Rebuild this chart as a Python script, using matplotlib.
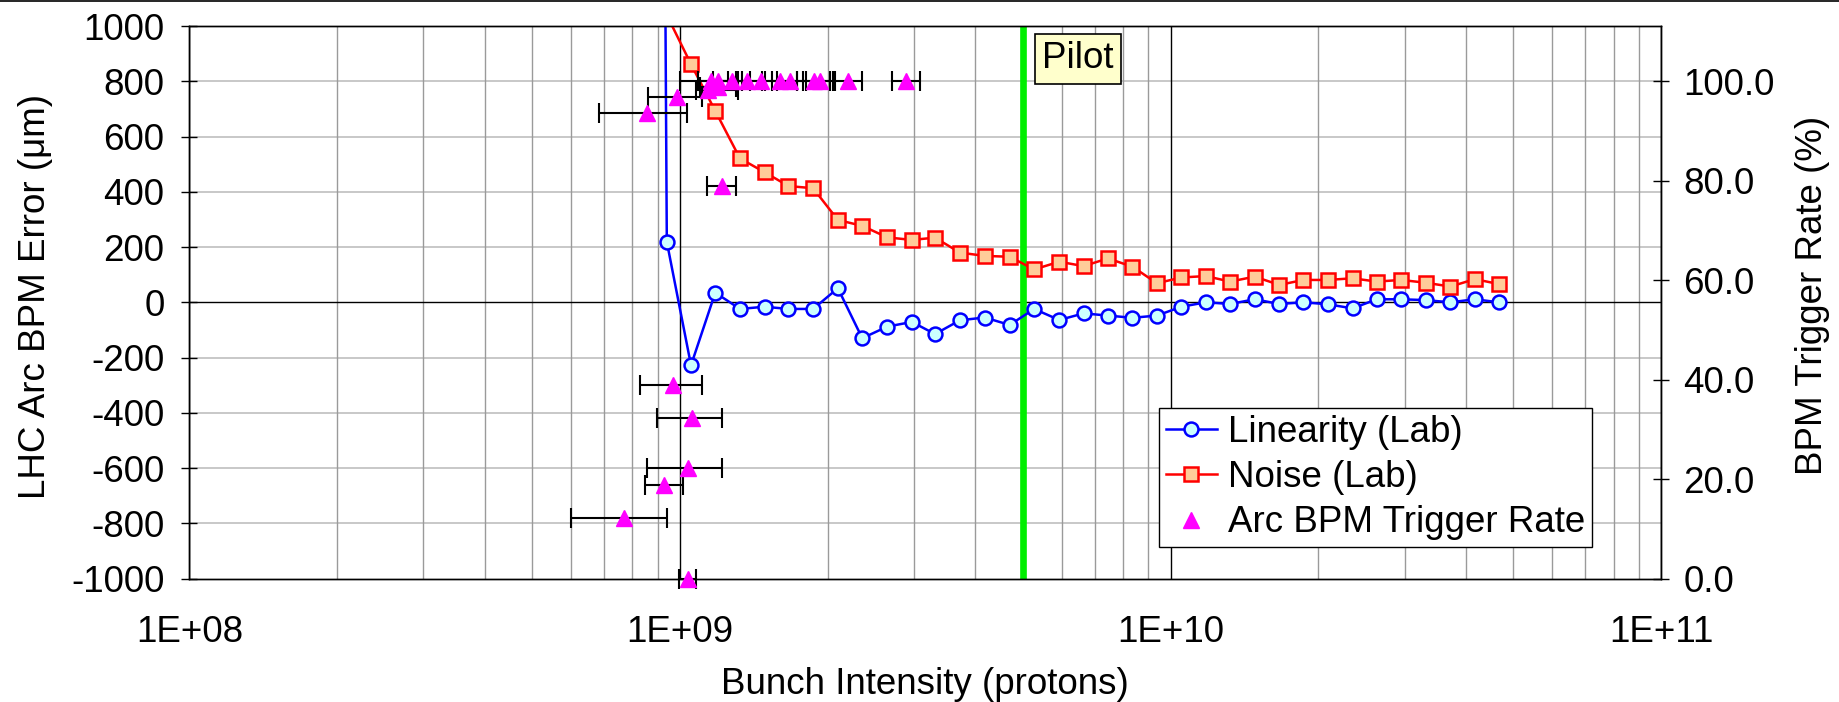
import matplotlib
matplotlib.use('Agg')
import matplotlib.pyplot as plt
from matplotlib.ticker import LogLocator, FuncFormatter, NullFormatter, FixedLocator
from matplotlib.lines import Line2D
import numpy as np

plt.rcParams['font.family'] = ['Liberation Sans', 'DejaVu Sans']
plt.rcParams['axes.unicode_minus'] = False
FS = 26.5

# ---------------- data ----------------
intensity = [8.37e8, 9.40e8, 1.053e9, 1.18e9, 1.325e9, 1.487e9, 1.664e9, 1.868e9,
             2.098e9, 2.352e9, 2.645e9, 2.97e9, 3.31e9, 3.72e9, 4.18e9, 4.70e9,
             5.27e9, 5.93e9, 6.65e9, 7.45e9, 8.36e9, 9.38e9, 1.052e10, 1.18e10,
             1.323e10, 1.484e10, 1.666e10, 1.866e10, 2.09e10, 2.35e10, 2.63e10,
             2.95e10, 3.31e10, 3.72e10, 4.17e10, 4.67e10]
linearity = [15000, 219, -228, 35, -24, -16, -24, -24, 51, -130, -88, -71, -115, -65,
             -55, -82, -24, -64, -40, -48, -56, -48, -16, 0, -6, 11, -6, 0, -7, -22,
             11, 11, 8, 0, 11, 0]
noise = [1500, 1040, 862, 693, 521, 471, 421, 413, 298, 277, 235, 226, 234, 180, 168,
         165, 119, 147, 131, 159, 129, 69, 90, 95, 75, 93, 63, 81, 81, 87, 75, 81,
         71, 57, 84, 66]

trig_x = [1.157e9, 1.195e9, 1.276e9, 1.37e9, 1.463e9, 1.599e9, 1.676e9, 1.876e9,
          1.929e9, 2.20e9, 2.89e9, 1.142e9, 1.195e9, 9.85e8, 8.58e8, 1.216e9,
          9.66e8, 1.056e9, 1.037e9, 9.29e8, 7.69e8, 1.037e9]
trig_rate = [100, 100, 100, 100, 100, 100, 100, 100, 100, 100, 100, 98.2, 98.8,
             96.9, 93.6, 79.0, 38.9, 32.2, 22.2, 18.8, 12.2, 0.0]
trig_lo = [1.00e9, 1.09e9, 1.17e9, 1.25e9, 1.34e9, 1.47e9, 1.54e9, 1.73e9,
           1.78e9, 2.05e9, 2.70e9, 1.078e9, 1.10e9, 8.62e8, 6.84e8, 1.134e9,
           8.29e8, 8.96e8, 8.58e8, 8.48e8, 5.99e8, 9.97e8]
trig_hi = [1.30e9, 1.31e9, 1.39e9, 1.49e9, 1.58e9, 1.73e9, 1.81e9, 2.02e9,
           2.07e9, 2.35e9, 3.08e9, 1.315e9, 1.30e9, 1.107e9, 1.035e9, 1.30e9,
           1.107e9, 1.216e9, 1.22e9, 1.012e9, 9.39e8, 1.078e9]

pilot_x = 5.0e9
left_ticks = [-1000, -800, -600, -400, -200, 0, 200, 400, 600, 800, 1000]
right_ticks = [0, 20, 40, 60, 80, 100]
x_ticks = [1e8, 1e9, 1e10, 1e11]

# ---------------- figure ----------------
fig = plt.figure(figsize=(18.39, 7.02), dpi=100)
ax = fig.add_axes([0.1030, 0.1759, 0.8003, 0.7869])
ax.set_xscale('log')
ax.set_xlim(1e8, 1e11)
ax.set_ylim(-1000, 1000)
ax.set_axisbelow(True)

# grid
ax.xaxis.set_major_locator(FixedLocator(x_ticks))
ax.xaxis.set_minor_locator(LogLocator(base=10, subs=np.arange(2, 10)))
ax.xaxis.set_minor_formatter(NullFormatter())
ax.xaxis.set_major_formatter(FuncFormatter(lambda v, p: "1E+%02d" % int(round(np.log10(v)))))
ax.grid(which='minor', axis='x', color='#9a9a9a', lw=1.0)
ax.grid(which='major', axis='x', color='black', lw=1.0)
for yv in left_ticks:
    if yv == 0:
        ax.axhline(yv, color='black', lw=1.0, zorder=1)
    elif abs(yv) < 1000:
        ax.axhline(yv, color='#c4c4c4', lw=1.3, zorder=0.5)

ax.set_yticks(left_ticks)
ax.yaxis.set_major_formatter(FuncFormatter(lambda v, p: "%d" % v))

ax.axvline(pilot_x, color='#00EE00', lw=4.8, zorder=2.5)

l1, = ax.plot(intensity, linearity, color='#0000FF', lw=1.8, marker='o', ms=10,
              mfc='#CCFFFF', mec='#0000FF', mew=1.8, zorder=3, label='Linearity (Lab)')
l2, = ax.plot(intensity, noise, color='#FF0000', lw=1.8, marker='s', ms=9.5,
              mfc='#FFCC99', mec='#FF0000', mew=1.8, zorder=3, label='Noise (Lab)')

ax.text(6.47e9, 881, 'Pilot', ha='center', va='center', fontsize=FS, zorder=6,
        bbox=dict(boxstyle='square,pad=0.2', fc='#FFFFCC', ec='black', lw=1.2))

ax.tick_params(axis='y', direction='inout', length=12, width=1, labelsize=FS, pad=12)
ax.tick_params(axis='x', which='both', length=0, labelsize=FS, pad=26)
for s in ax.spines.values():
    s.set_color('black')
    s.set_linewidth(1.0)

ax.set_xlabel('Bunch Intensity (protons)', fontsize=FS, va='center')
ax.xaxis.set_label_coords(0.5, -0.192)
ax.set_ylabel('LHC Arc BPM Error (\u03bcm)', fontsize=FS, va='center')
ax.yaxis.set_label_coords(-0.1049, 0.51)

# right axis
ax2 = ax.twinx()
ax2.set_ylim(0, 100 / 0.9)
ax2.set_yticks(right_ticks)
ax2.yaxis.set_major_formatter(FuncFormatter(lambda v, p: "%.1f" % v))
ax2.tick_params(axis='y', direction='inout', length=12, width=1, labelsize=FS, pad=10)
ax2.set_ylabel('BPM Trigger Rate (%)', fontsize=FS, va='center', rotation=90)
ax2.yaxis.set_label_coords(1.1025, 0.512)
for s in ax2.spines.values():
    s.set_color('black')
    s.set_linewidth(1.0)

tx = np.array(trig_x)
xerr = [tx - np.array(trig_lo), np.array(trig_hi) - tx]
eb = ax2.errorbar(trig_x, trig_rate, xerr=xerr, fmt='^', color='#FF00FF', mec='#FF00FF',
                  ms=11, ecolor='black', elinewidth=1.5, capsize=7, capthick=1.5, zorder=4)
dl, caps, bars = eb.lines
dl.set_clip_on(False)
for c in caps:
    c.set_clip_on(False)
for b in bars:
    b.set_clip_on(False)

h3 = Line2D([], [], ls='none', marker='^', color='#FF00FF', ms=11)
leg = ax2.legend([l1, l2, h3], ['Linearity (Lab)', 'Noise (Lab)', 'Arc BPM Trigger Rate'],
                 loc='lower left', bbox_to_anchor=(0.6588, 0.057), borderaxespad=0,
                 fontsize=FS, frameon=True, fancybox=False, framealpha=1,
                 edgecolor='black', borderpad=0.18, labelspacing=0.28,
                 handlelength=1.4, handletextpad=0.3)
leg.get_frame().set_linewidth(1.0)
leg.set_zorder(10)

fig.add_artist(Line2D([0, 1], [0.9985, 0.9985], color='black', lw=1.2, transform=fig.transFigure))

fig.savefig('out.png', dpi=100)
